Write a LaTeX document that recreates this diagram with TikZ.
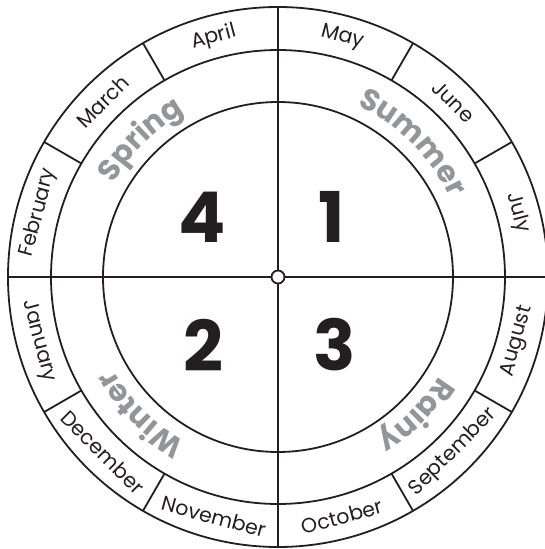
\documentclass[tikz,border=0pt]{standalone}
\usepackage{fontspec}
\setmainfont{Poppins}
\usetikzlibrary{decorations.text}
\definecolor{ink}{HTML}{231F20}
\definecolor{season}{HTML}{939598}
\newcommand\ssnfont{\fontsize{30}{30}\selectfont\bfseries}

\begin{document}
\begin{tikzpicture}[x=1pt,y=1pt,
  ring/.style={draw=ink,line width=1.8pt},
  mon/.style={font=\fontsize{20.5}{20.5}\selectfont,text=ink,inner sep=0pt},
  num/.style={font=\fontsize{70}{70}\selectfont\bfseries,text=ink},
  ssn/.style={decorate,decoration={text along path,text align=center,text color=season}}]
\useasboundingbox (-278,-272) rectangle (266,277);
\coordinate (c) at (0,0);
% rings and dividers
\draw[ring] (c) circle (270);
\draw[ring] (c) circle (227);
\draw[ring] (c) circle (175);
\foreach \a in {30,60,120,150,210,240,300,330}
  \draw[ring] (\a:227) -- (\a:270);
\draw[ring] (-270,0) -- (270,0);
\draw[ring] (0,-270) -- (0,270);
\draw[ring,fill=white] (c) circle (6.5);
% months
\foreach \m/\a in {February/165,March/135,April/105,May/75,June/45,July/15}
  \node[mon,rotate=\a-90] (\m) at (\a:248) {\m};
\foreach \m/\a in {August/345,September/315,October/285,November/255,December/225,January/195}
  \node[mon,rotate=\a+90] (\m) at (\a:248) {\m};
% seasons
\path[ssn,decoration={text={|\ssnfont|Summer}}] (105:189) arc[start angle=105,end angle=-15,radius=189];
\path[ssn,decoration={text={|\ssnfont|Spring}}] (195:189) arc[start angle=195,end angle=75,radius=189];
\path[ssn,decoration={text={|\ssnfont|Winter}}] (285:189) arc[start angle=285,end angle=165,radius=189];
\path[ssn,decoration={text={|\ssnfont|Rainy}}] (15:189) arc[start angle=15,end angle=-105,radius=189];
% quarters
\node[num] (q1) at (54,60) {1};
\node[num] (q4) at (-76,60) {4};
\node[num] (q2) at (-75,-68) {2};
\node[num] (q3) at (57,-68) {3};
\end{tikzpicture}
\end{document}
